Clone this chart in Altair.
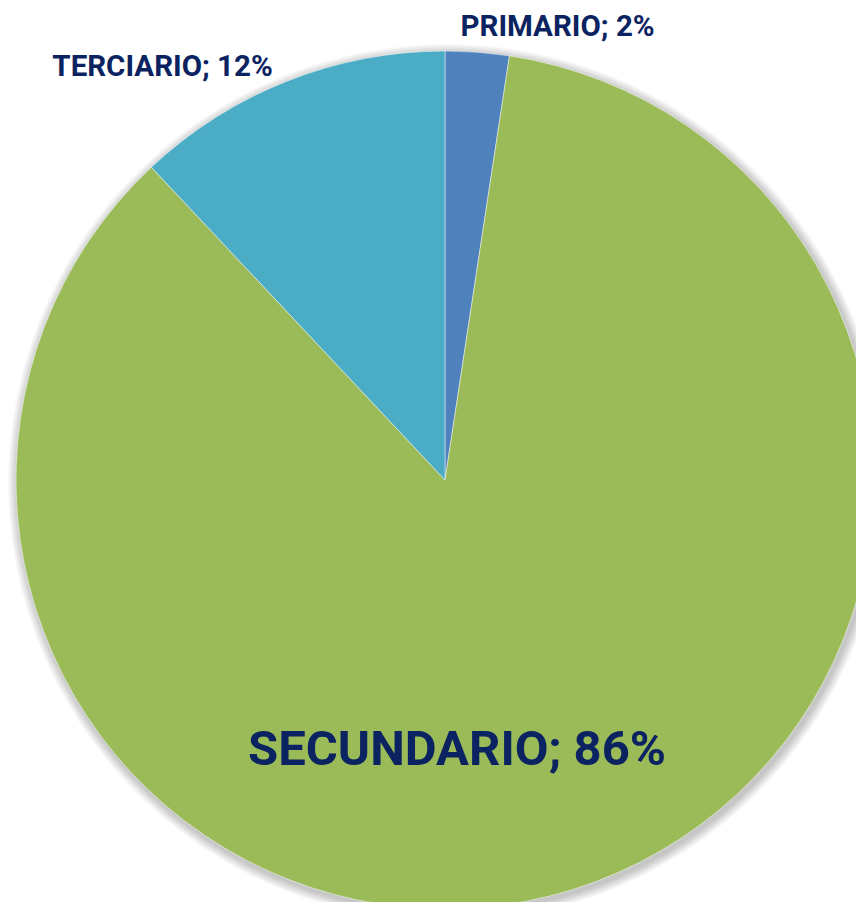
import math
import altair as alt
import pandas as pd

# ---- data ----
sectors = ["PRIMARIO", "SECUNDARIO", "TERCIARIO"]
shares = [2.4, 85.6, 12.0]
labels = ["PRIMARIO; 2%", "SECUNDARIO; 86%", "TERCIARIO; 12%"]
slice_order = [0, 1, 2]

# ---- style ----
colors = ["#4F81BD", "#9BBB59", "#4BACC6"]
navy = "#0B2360"
FONT = "Roboto"
CX, CY, R = 437, 472, 429

df = pd.DataFrame({"sector": sectors, "share": shares, "label": labels, "order": slice_order})

theta_scale = alt.Scale(domain=[0, 1], range=[0, 2 * math.pi])

base = (
    alt.Chart(df)
    .transform_joinaggregate(total="sum(share)")
    .transform_window(cum="sum(share)", sort=[alt.SortField("order")], frame=[None, 0])
    .transform_calculate(
        t0="(datum.cum - datum.share) / datum.total",
        t1="datum.cum / datum.total",
        mid="(datum.cum - datum.share / 2) / datum.total",
    )
)

layers = []
# soft shadow around the pie
for k in range(1, 11):
    layers.append(
        base.mark_arc(outerRadius=R + k, color="black", opacity=0.025).encode(
            theta=alt.Theta("t0:Q", scale=theta_scale),
            theta2="t1:Q",
            x=alt.value(CX + 2),
            y=alt.value(CY + 3),
        )
    )

pie = base.mark_arc(outerRadius=R, stroke="#ffffff", strokeWidth=0.8, strokeOpacity=0.6).encode(
    theta=alt.Theta("t0:Q", scale=theta_scale),
    theta2="t1:Q",
    color=alt.Color("sector:N", scale=alt.Scale(domain=sectors, range=colors), legend=None),
    x=alt.value(CX),
    y=alt.value(CY),
)
layers.append(pie)

# label placement: (sector, radius, dx, dy, fontSize)
label_style = [
    ("PRIMARIO", 459, 78, 4.5, 29.5),
    ("TERCIARIO", 444, -119, 0, 29.5),
    ("SECUNDARIO", 283, -72, 0, 49),
]

for sec, rad, dx, dy, fs in label_style:
    layers.append(
        base.transform_filter(alt.datum.sector == sec)
        .mark_text(radius=rad, dx=dx, dy=dy, font=FONT, fontSize=fs,
                   fontWeight="bold", color=navy)
        .encode(theta=alt.Theta("mid:Q", scale=theta_scale), text="label:N",
                x=alt.value(CX), y=alt.value(CY))
    )

chart = (
    alt.layer(*layers)
    .properties(width=848, height=894, padding=0, autosize=alt.AutoSizeParams(type="none"))
    .configure_view(strokeWidth=0)
)

chart.save("out.html", embed_options={"renderer": "svg", "actions": False})
